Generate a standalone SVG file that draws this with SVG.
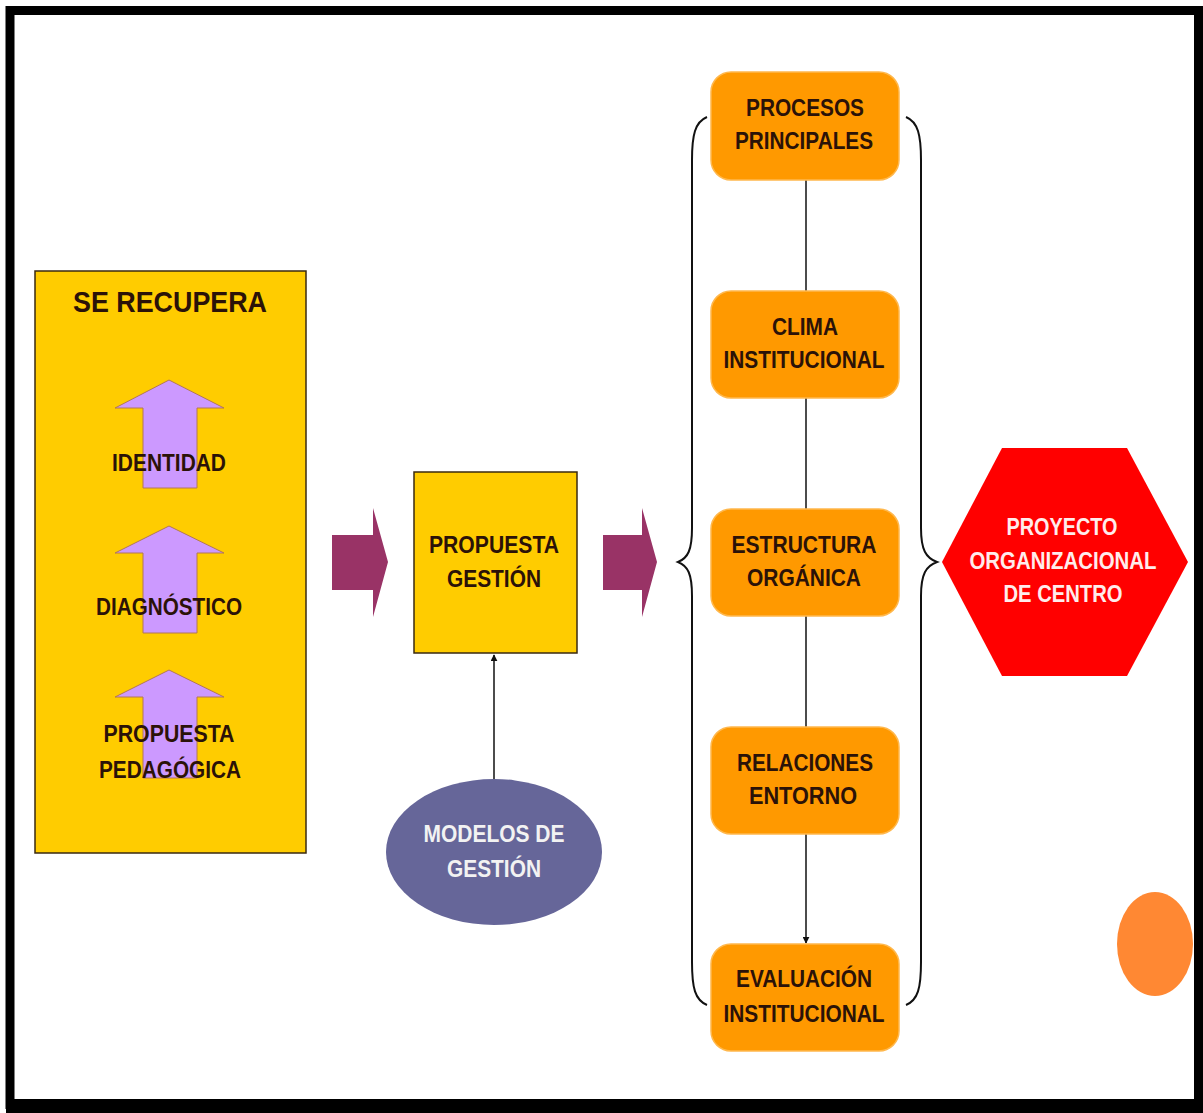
<svg xmlns="http://www.w3.org/2000/svg" width="1203" height="1113" viewBox="0 0 1203 1113">
<style>
text{font-family:"Liberation Sans",Arial,sans-serif;font-weight:bold;text-anchor:middle}
.dk{fill:#2b1208;font-size:24px}
.lt{fill:#f2f2f2;font-size:24px}
.pk{fill:#ffecec;font-size:23px}
.box{fill:#FF9900;stroke:#FFB84D;stroke-width:1.5}
.up{fill:#CC99FF;stroke:#B37755;stroke-width:1}
.mag{fill:#993366}
.ln{fill:none;stroke:#111;stroke-width:1.5}
.br{fill:none;stroke:#111;stroke-width:2}
</style>
<defs>
<marker id="ah" viewBox="0 0 10 10" refX="9" refY="5" markerWidth="7" markerHeight="7" markerUnits="userSpaceOnUse" orient="auto">
<path d="M0,0 L10,5 L0,10 z" fill="#111"/>
</marker>
</defs>
<rect x="0" y="0" width="1203" height="1113" fill="#fff"/>
<rect x="10" y="10.5" width="1188.5" height="1094" fill="none" stroke="#000" stroke-width="9"/>
<rect x="6" y="1099" width="1197" height="14" fill="#000"/>

<g id="se-recupera">
<rect x="35" y="271" width="271" height="582" fill="#FFCC00" stroke="#3a2a10" stroke-width="1.5"/>
<text class="dk" x="170" y="312" style="font-size:30px" textLength="194" lengthAdjust="spacingAndGlyphs">SE RECUPERA</text>
<path class="up" d="M169,380 L224,408 L197,408 L197,488 L143,488 L143,408 L115,408 Z"/>
<text class="dk" x="169" y="471" textLength="114" lengthAdjust="spacingAndGlyphs">IDENTIDAD</text>
<path class="up" d="M169,526 L224,553 L197,553 L197,633 L143,633 L143,553 L115,553 Z"/>
<text class="dk" x="169" y="615" textLength="146" lengthAdjust="spacingAndGlyphs">DIAGNÓSTICO</text>
<path class="up" d="M169,670 L224,697 L197,697 L197,778 L143,778 L143,697 L115,697 Z"/>
<text class="dk" x="169" y="742" textLength="131" lengthAdjust="spacingAndGlyphs">PROPUESTA</text>
<text class="dk" x="170" y="778" textLength="142" lengthAdjust="spacingAndGlyphs">PEDAGÓGICA</text>
</g>

<g id="arrow-left">
<path class="mag" d="M332,535 L373,535 L373,508 L388,562 L373,617 L373,590 L332,590 Z"/>
</g>

<g id="propuesta-gestion">
<rect x="414" y="472" width="163" height="181" fill="#FFCC00" stroke="#3a2a10" stroke-width="1.5"/>
<text class="dk" x="494" y="553" textLength="130" lengthAdjust="spacingAndGlyphs">PROPUESTA</text>
<text class="dk" x="494" y="587" textLength="94" lengthAdjust="spacingAndGlyphs">GESTIÓN</text>
</g>

<g id="arrow-right">
<path class="mag" d="M603,535 L642,535 L642,508 L657,562 L642,617 L642,590 L603,590 Z"/>
</g>

<g id="modelos-gestion">
<ellipse cx="494" cy="852" rx="108" ry="73" fill="#666699"/>
<text class="lt" x="494" y="842" textLength="141" lengthAdjust="spacingAndGlyphs">MODELOS DE</text>
<text class="lt" x="494" y="877" textLength="94" lengthAdjust="spacingAndGlyphs">GESTIÓN</text>
</g>

<g id="connectors">
<line class="ln" x1="494" y1="779" x2="494" y2="655" marker-end="url(#ah)"/>
<line class="ln" x1="806" y1="180" x2="806" y2="943" marker-end="url(#ah)"/>
<path class="br" d="M707,117 C695,122 692,135 692,160 L692,528 C692,550 688,558 678,562 C688,566 692,574 692,596 L692,962 C692,988 695,1000 707,1005"/>
<path class="br" d="M906,117 C918,122 921,135 921,160 L921,528 C921,550 926,558 937,562 C926,566 921,574 921,596 L921,962 C921,988 918,1000 906,1005"/>
</g>

<g id="procesos">
<rect class="box" x="711" y="72" width="188" height="108" rx="20"/>
<text class="dk" x="805" y="116" textLength="118" lengthAdjust="spacingAndGlyphs">PROCESOS</text>
<text class="dk" x="804" y="149" textLength="138" lengthAdjust="spacingAndGlyphs">PRINCIPALES</text>
</g>
<g id="clima">
<rect class="box" x="711" y="291" width="188" height="107" rx="20"/>
<text class="dk" x="805" y="335" textLength="66" lengthAdjust="spacingAndGlyphs">CLIMA</text>
<text class="dk" x="804" y="368" textLength="161" lengthAdjust="spacingAndGlyphs">INSTITUCIONAL</text>
</g>
<g id="estructura">
<rect class="box" x="711" y="509" width="188" height="107" rx="20"/>
<text class="dk" x="804" y="553" textLength="145" lengthAdjust="spacingAndGlyphs">ESTRUCTURA</text>
<text class="dk" x="804" y="586" textLength="114" lengthAdjust="spacingAndGlyphs">ORGÁNICA</text>
</g>
<g id="relaciones">
<rect class="box" x="711" y="727" width="188" height="107" rx="20"/>
<text class="dk" x="805" y="771" textLength="136" lengthAdjust="spacingAndGlyphs">RELACIONES</text>
<text class="dk" x="803" y="804" textLength="108" lengthAdjust="spacingAndGlyphs">ENTORNO</text>
</g>
<g id="evaluacion">
<rect class="box" x="711" y="944" width="188" height="107" rx="20"/>
<text class="dk" x="804" y="987" textLength="136" lengthAdjust="spacingAndGlyphs">EVALUACIÓN</text>
<text class="dk" x="804" y="1022" textLength="161" lengthAdjust="spacingAndGlyphs">INSTITUCIONAL</text>
</g>

<g id="proyecto">
<path d="M1002,448 L1127,448 L1188,562 L1127,676 L1002,676 L942,562 Z" fill="#FF0000"/>
<text class="pk" x="1062" y="535" textLength="111" lengthAdjust="spacingAndGlyphs">PROYECTO</text>
<text class="pk" x="1063" y="569" textLength="187" lengthAdjust="spacingAndGlyphs">ORGANIZACIONAL</text>
<text class="pk" x="1063" y="602" textLength="119" lengthAdjust="spacingAndGlyphs">DE CENTRO</text>
</g>

<g id="circle">
<ellipse cx="1155" cy="944" rx="38" ry="52" fill="#FF8833"/>
</g>
</svg>
